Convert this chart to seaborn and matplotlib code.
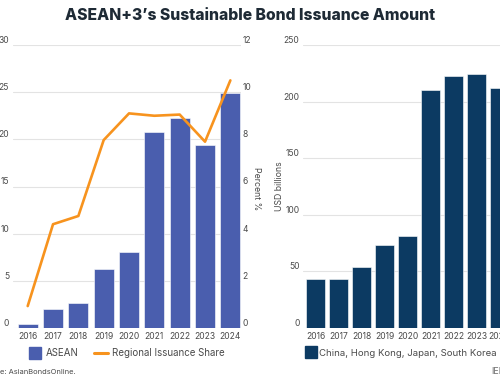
import matplotlib
matplotlib.use("Agg")
import matplotlib.pyplot as plt
from matplotlib.lines import Line2D
import seaborn as sns
import pandas as pd
import numpy as np

# ==========================================
# DATA
# ==========================================
years = ["2016", "2017", "2018", "2019", "2020", "2021", "2022", "2023", "2024"]
asean_usd = [0.4, 2.0, 2.6, 6.3, 8.1, 20.8, 22.3, 19.4, 24.9]
regional_share = [0.93, 4.4, 4.75, 7.97, 9.1, 9.0, 9.05, 7.9, 10.5]
plus3_usd = [43.5, 43.0, 53.6, 73.6, 81.3, 210.0, 223.0, 224.6, 211.7]

# colours
ASEAN_BLUE = "#4a5eae"
SHARE_ORANGE = "#f7931e"
PLUS3_NAVY = "#0c3a62"
GRID = "#e3e3e3"
TEXT = "#4a4a4a"

sns.set_theme(style="white")
plt.rcParams["font.family"] = ["Inter", "DejaVu Sans"]

df = pd.DataFrame({
    "year": years,
    "asean": asean_usd,
    "share": regional_share,
    "plus3": plus3_usd,
})

fig = plt.figure(figsize=(5.0, 3.83), dpi=100)
W, H = 500.0, 383.0


def px_axes(x0, x1, y_top, y_bot):
    return [x0 / W, (H - y_bot) / H, (x1 - x0) / W, (y_bot - y_top) / H]


def style_axis(ax, ymax, step):
    ax.set_ylim(0, ymax)
    ax.set_yticks(np.arange(0, ymax + 1, step))
    ax.yaxis.grid(True, color=GRID, linewidth=0.8)
    ax.xaxis.grid(False)
    ax.set_axisbelow(True)
    for s in ax.spines.values():
        s.set_visible(False)
    ax.tick_params(axis="both", length=0, labelsize=6.1, labelcolor=TEXT)
    ax.tick_params(axis="x", pad=3)
    ax.tick_params(axis="y", pad=2.5)
    for lbl in ax.get_yticklabels():
        lbl.set_va("bottom")
    ax.set_xlabel("")
    ax.set_ylabel("")


# --- Left panel: ASEAN bars + regional share line ---
ax1 = fig.add_axes(px_axes(12.5, 241, 45, 328))
sns.barplot(data=df, x="year", y="asean", color=ASEAN_BLUE, width=0.8,
            saturation=1, edgecolor="white", linewidth=0.4, ax=ax1)
ax1.set_xlim(-0.6, 8.42)
style_axis(ax1, 30, 5)

ax1b = ax1.twinx()
sns.lineplot(x=np.arange(len(years)), y=df["share"], color=SHARE_ORANGE,
             linewidth=1.9, ax=ax1b)
ax1b.set_xlim(-0.6, 8.42)
ax1b.set_ylim(0, 12)
ax1b.set_yticks(np.arange(0, 13, 2))
for s in ax1b.spines.values():
    s.set_visible(False)
ax1b.tick_params(axis="y", length=0, labelsize=6.1, labelcolor=TEXT, pad=1)
for lbl in ax1b.get_yticklabels():
    lbl.set_va("bottom")
ax1b.set_ylabel("")
ax1b.grid(False)

# --- Right panel: China, Hong Kong, Japan, South Korea ---
ax2 = fig.add_axes(px_axes(303, 512, 45, 328))
sns.barplot(data=df, x="year", y="plus3", color=PLUS3_NAVY, width=0.82,
            saturation=1, edgecolor="white", linewidth=0.4, ax=ax2)
ax2.set_xlim(-0.55, 8.55)
style_axis(ax2, 250, 50)

# axis titles
fig.text(257 / W, (H - 189) / H, "Percent %", rotation=270, ha="center",
         va="center", fontsize=6.3, color=TEXT)
fig.text(280 / W, (H - 186) / H, "USD billions", rotation=90, ha="center",
         va="center", fontsize=6.3, color=TEXT)

# legends
h_asean = Line2D([], [], marker="s", markersize=8, linestyle="none",
                 color=ASEAN_BLUE, label="ASEAN")
h_share = Line2D([], [], color=SHARE_ORANGE, linewidth=2.2,
                 label="Regional Issuance Share")
fig.legend(handles=[h_asean, h_share], loc="center",
           bbox_to_anchor=(126.5 / W, (H - 353) / H), ncol=2, frameon=False,
           fontsize=7, handlelength=1.4, handletextpad=0.4, columnspacing=1.6,
           labelcolor=TEXT)

h_plus3 = Line2D([], [], marker="s", markersize=8, linestyle="none",
                 color=PLUS3_NAVY, label="China, Hong Kong, Japan, South Korea")
fig.legend(handles=[h_plus3], loc="center left",
           bbox_to_anchor=(298 / W, (H - 353) / H), frameon=False,
           fontsize=6.9, handlelength=1.0, handletextpad=0.25, labelcolor=TEXT)

# title and footer
fig.text(0.5, (H - 15) / H, "ASEAN+3\u2019s Sustainable Bond Issuance Amount",
         ha="center", va="center", fontsize=11.3, fontweight="heavy",
         color="#1e2a35")
fig.text(76 / W, (H - 372) / H, "Source: AsianBondsOnline.", ha="right",
         va="center", fontsize=5.4, color=TEXT)
fig.text(491 / W, (H - 372) / H, "IEEFA", ha="left", va="center",
         fontsize=6.5, color="#6a6a6a")

fig.savefig("out.png", dpi=100)
